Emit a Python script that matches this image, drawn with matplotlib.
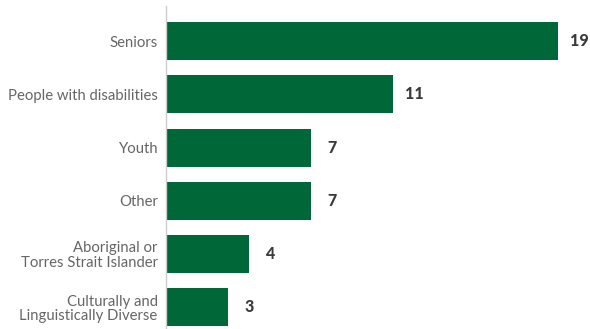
import matplotlib
matplotlib.use("Agg")
import matplotlib.pyplot as plt

categories = ["Seniors", "People with disabilities", "Youth", "Other",
              "Aboriginal or\nTorres Strait Islander",
              "Culturally and\nLinguistically Diverse"]
values = [19, 11, 7, 7, 4, 3]

plt.rcParams['font.family'] = ['Lato', 'DejaVu Sans']

fig = plt.figure(figsize=(5.9, 3.29), dpi=100)
ax = fig.add_axes([166/590, 0.0, (579-166)/590, 323/329])

ypos = list(range(len(categories)))
ax.barh(ypos, values, height=0.715, color="#006838")
ax.set_xlim(0, 20)
ax.set_ylim(5.41, -0.66)
ax.set_yticks(ypos)
ax.set_yticklabels(categories, fontsize=10.7, color="#666666", linespacing=1.05)
ax.tick_params(axis='y', length=0, pad=6)
ax.set_xticks([])
for s in ["top", "right", "bottom"]:
    ax.spines[s].set_visible(False)
ax.spines["left"].set_color("#cccccc")
ax.spines["left"].set_linewidth(1)

for y, v in zip(ypos, values):
    ax.annotate(str(v), xy=(v, y), xytext=(21, 0), textcoords="offset pixels",
                ha="center", va="center", fontsize=11.5, fontweight="black",
                color="#3a3a3a", annotation_clip=False)

fig.savefig("out.png", dpi=100)
